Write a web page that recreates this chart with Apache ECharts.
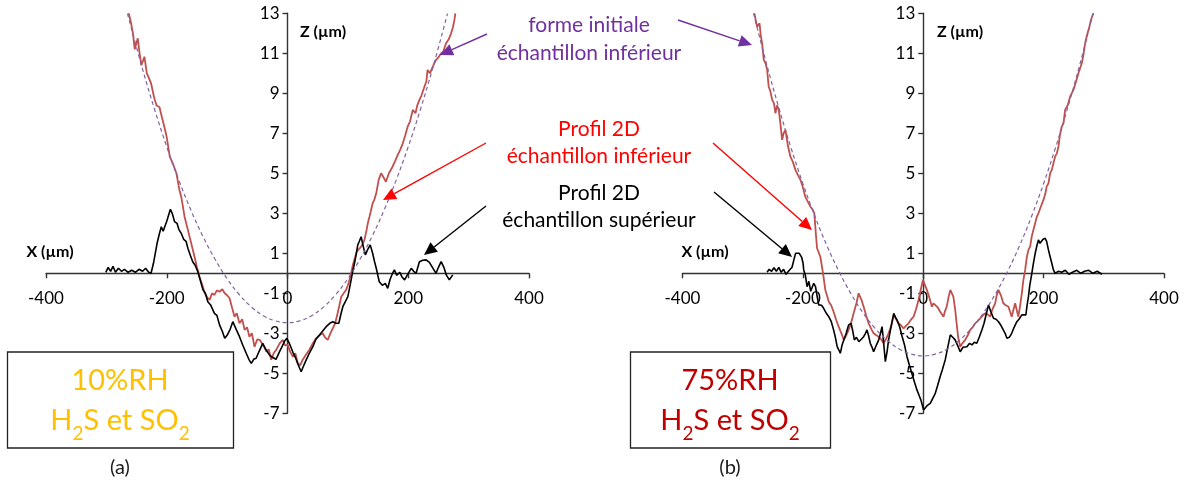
<!DOCTYPE html>
<html><head><meta charset="utf-8">
<script src="https://cdn.jsdelivr.net/npm/echarts@6.0.0/dist/echarts.min.js"></script>
<style>html,body{margin:0;padding:0;background:#fff}#c{width:1188px;height:484px}</style>
</head><body><div id="c"></div>
<script>
// ---- axis settings ----
const X_MIN = -400, X_MAX = 400, X_STEP = 200;
const Z_MIN = -7, Z_MAX = 13, Z_STEP = 2;
const X_NAME = 'X (µm)', Z_NAME = 'Z (µm)';

// ---- panel (a) : 10%RH ----
const aInitial = [[-265,12.98],[-240,10.2],[-220,8.18],[-200,6.33],[-180,4.66],[-160,3.16],[-140,1.84],[-120,0.70],[-100,-0.27],[-80,-1.06],[-60,-1.68],[-40,-2.12],[-20,-2.38],[0,-2.47],[20,-2.38],[40,-2.12],[60,-1.68],[80,-1.06],[100,-0.27],[120,0.70],[140,1.84],[160,3.16],[180,4.66],[200,6.33],[220,8.18],[240,10.2],[265,12.98]];
const aInferieur = [[-263,13.0],[-259,12.5],[-256,12.0],[-253,11.2],[-248,11.75],[-245,11.0],[-242,10.4],[-237,10.83],[-233,10.0],[-230,9.8],[-226,9.5],[-221,8.8],[-217,8.4],[-212,8.3],[-208,7.8],[-204,7.33],[-200,6.8],[-195,5.83],[-190,5.5],[-184,5.0],[-179,4.17],[-176,3.83],[-170.5,2.83],[-165,2.17],[-159.5,1.5],[-154,0.83],[-150,0.3],[-145.7,-0.17],[-141,-0.6],[-137,-1.0],[-133,-1.2],[-129,-1.33],[-125,-1.0],[-121,-1.08],[-117,-0.85],[-112.6,-0.92],[-108,-0.8],[-104,-1.0],[-100,-1.1],[-96,-1.25],[-92,-1.7],[-87.7,-2.17],[-84,-2.0],[-79.5,-2.5],[-75,-2.3],[-71,-2.83],[-67,-2.7],[-63,-3.17],[-59,-3.0],[-54.6,-3.67],[-50,-3.3],[-46,-3.33],[-40,-3.6],[-35,-3.92],[-31,-3.8],[-27,-4.33],[-23,-4.0],[-18.7,-3.83],[-13,-3.5],[-8,-3.33],[-4,-3.6],[0.5,-3.58],[4,-3.9],[9,-4.17],[13,-4.0],[17,-4.5],[21,-4.6],[25,-4.33],[30,-4.1],[36,-3.83],[42,-3.5],[47.5,-3.25],[53,-3.1],[58.4,-3.0],[62,-3.2],[66.7,-3.33],[71,-3.0],[75,-2.75],[79,-2.5],[83,-2.0],[86,-1.6],[89,-1.17],[93,-1.0],[97,-0.83],[100,-0.6],[102.6,-0.33],[106,0.1],[109,0.5],[112,0.8],[114.7,1.08],[118,1.2],[122,1.33],[125,1.5],[127.5,1.67],[131,2.17],[133,2.5],[135.8,2.83],[138,3.1],[141,3.5],[144,3.7],[147,4.0],[151,4.67],[155,5.0],[159,4.8],[163,4.58],[168,5.0],[174,5.33],[178,5.6],[182.6,5.92],[187,6.2],[191,6.5],[195,6.9],[199,7.33],[203,7.6],[207.5,8.17],[212,8.0],[215,8.4],[218.5,8.67],[222,8.9],[226.8,9.33],[230,9.6],[232,10.17],[236,10.0],[240.6,10.33],[246,10.67],[250,10.8],[254.5,11.0],[258,11.1],[262.7,11.5],[267,11.7],[271,12.0],[274,12.3],[276.5,12.67],[278,13.0]];
const aSuperieur = [[-301,0.05],[-297,0.3],[-293,0.1],[-289,0.35],[-285,0.05],[-280,0.25],[-275,0.1],[-270,0.2],[-264,0.05],[-258,0.15],[-252,0.05],[-246,0.2],[-240,0.1],[-235,0.25],[-230,0.05],[-226,0.0],[-222,0.5],[-220,0.83],[-216,1.5],[-212,2.0],[-209,2.33],[-206,2.1],[-204,2.1],[-200,2.6],[-197,2.9],[-194,3.2],[-191,3.0],[-187,2.58],[-183,2.5],[-180,2.2],[-176,2.0],[-172,1.7],[-168,1.6],[-165,1.25],[-161,0.9],[-157,0.58],[-153,0.4],[-148.5,0.08],[-144,-0.4],[-140,-0.83],[-136,-1.0],[-132,-1.42],[-127,-1.6],[-121,-2.0],[-117,-2.1],[-112.6,-2.58],[-108,-2.9],[-104,-3.25],[-100,-3.1],[-95,-2.8],[-90.6,-2.42],[-85,-2.8],[-79.5,-3.17],[-74,-3.6],[-68.4,-4.0],[-64,-4.3],[-60,-4.5],[-56,-4.3],[-52,-4.25],[-47,-3.9],[-41,-3.5],[-36,-3.8],[-30,-4.08],[-25,-4.2],[-19,-4.3],[-13,-3.9],[-9,-3.67],[-5,-3.4],[-1,-3.25],[3,-3.5],[9,-3.95],[13,-4.2],[18,-4.6],[22.7,-4.92],[27,-4.6],[31,-4.33],[36,-4.0],[42,-3.67],[47,-3.3],[53,-3.08],[58,-2.9],[64,-2.67],[70,-2.5],[75,-2.42],[80,-2.5],[85,-2.5],[88,-2.1],[91.6,-1.67],[96,-1.4],[100,-1.17],[103,-0.7],[105.4,-0.33],[108,0.1],[111,0.5],[114,1.0],[116.4,1.42],[119,1.6],[122,1.83],[125,1.4],[129,0.92],[133,1.2],[137,1.42],[141,1.0],[144,0.6],[147,0.25],[152,-0.42],[157,-0.6],[162,-0.5],[166,-0.75],[170,-0.3],[174,0.0],[177,0.17],[181,-0.1],[186,0.05],[190,-0.2],[194,-0.33],[199,-0.05],[205,0.25],[209,0.1],[213,0.0],[218.5,0.58],[224,0.65],[229.6,0.67],[235,0.55],[240,0.3],[246,0.0],[250,0.3],[254.5,0.58],[259,0.3],[263,-0.08],[268,-0.33],[273.7,-0.08]];

// ---- panel (b) : 75%RH ----
const bInitial = [[-282,13.0],[-260,10.43],[-240,8.28],[-220,6.30],[-200,4.49],[-180,2.85],[-160,1.38],[-140,0.09],[-120,-1.03],[-100,-1.98],[-80,-2.75],[-60,-3.35],[-40,-3.79],[-20,-4.04],[0,-4.13],[20,-4.04],[40,-3.79],[60,-3.35],[80,-2.75],[100,-1.98],[120,-1.03],[140,0.09],[160,1.38],[180,2.85],[200,4.49],[220,6.30],[240,8.28],[260,10.43],[282,13.0]];
const bInferieur = [[-280.5,13.0],[-278,12.6],[-276,12.33],[-272,12.5],[-270,11.9],[-267.7,11.5],[-265,10.67],[-262,10.5],[-259.4,10.17],[-256.8,9.33],[-254,9.1],[-251,8.67],[-248,8.5],[-245.6,8.0],[-243,8.4],[-240,8.17],[-237,7.4],[-234.5,6.67],[-232,7.0],[-229,7.17],[-225,6.4],[-220.7,5.83],[-217,5.6],[-212.4,5.17],[-208,4.9],[-204,4.67],[-200,4.3],[-196,3.83],[-192,3.6],[-187.5,3.33],[-184,3.2],[-181,3.0],[-178.5,2.0],[-176.4,1.25],[-171,0.83],[-166.5,0.0],[-162.7,-0.83],[-160,-1.1],[-157,-1.42],[-153,-1.6],[-149,-1.92],[-145,-2.3],[-140.6,-2.67],[-136,-3.0],[-132,-3.33],[-128,-3.1],[-124,-2.83],[-120,-2.5],[-115.7,-2.0],[-111,-1.5],[-107.4,-1.0],[-103,-1.3],[-99,-1.67],[-95,-2.1],[-90.8,-2.5],[-86,-2.8],[-82.5,-3.0],[-78,-3.1],[-74,-3.17],[-70,-3.3],[-66,-3.5],[-62,-3.3],[-57.6,-3.0],[-53,-2.6],[-49,-2.08],[-45,-2.3],[-41,-2.5],[-37,-2.6],[-32.7,-2.75],[-28,-2.6],[-24.4,-2.5],[-20,-2.3],[-16,-2.17],[-12,-1.8],[-7.8,-1.33],[-4,-0.8],[-0.5,-0.33],[0.5,-0.33],[3,-0.6],[6,-0.83],[10,-1.2],[14.4,-1.67],[17,-1.5],[20,-1.42],[24,-1.7],[28,-1.92],[33.7,-2.17],[36,-1.9],[39,-1.67],[42,-1.2],[45,-0.83],[50,-1.17],[53,-1.8],[56,-2.67],[58,-3.2],[61.4,-3.67],[65,-3.5],[69.7,-3.33],[74,-3.1],[78,-2.83],[82,-2.7],[86.3,-2.5],[90,-2.4],[94.6,-2.25],[99,-2.1],[103,-2.0],[107,-2.05],[111,-2.17],[115,-1.8],[119.5,-1.5],[122,-1.1],[125,-0.83],[129,-1.1],[133,-1.5],[137,-1.6],[141.6,-1.67],[144,-1.9],[147,-2.17],[150,-1.8],[152.7,-1.5],[155,-1.8],[158,-2.17],[161,-1.6],[163.8,-1.0],[166,-0.4],[169.3,0.17],[172,0.8],[174.8,1.17],[177.6,1.33],[180,1.8],[183,2.17],[188.7,2.83],[191.4,3.0],[195,3.3],[199.7,3.67],[203,4.0],[205,4.33],[208,4.5],[210.8,5.0],[213.6,5.17],[219,5.83],[222,6.0],[224.6,6.33],[227,6.9],[230,7.33],[233,7.5],[235.7,8.17],[240,8.4],[244,8.83],[249.5,9.17],[254,9.6],[257.8,10.0],[260,10.2],[263.4,10.5],[266,10.9],[269,11.5],[272,11.9],[276,12.33],[279,12.7],[282.7,13.0]];
const bSuperieur = [[-259.5,0.05],[-256,0.2],[-252,0.1],[-248,0.28],[-244,0.1],[-240,0.3],[-236,0.05],[-232,0.2],[-228,-0.05],[-224,0.1],[-220.7,0.0],[-218,0.3],[-215,0.67],[-212,1.0],[-209.6,1.08],[-206,1.0],[-204,1.03],[-202,0.8],[-199.7,0.5],[-198.6,0.17],[-196,-0.08],[-193,-0.67],[-190,-0.4],[-187,-0.9],[-184.7,-0.83],[-182,-0.5],[-179,-0.67],[-176,-1.2],[-173.7,-1.58],[-169,-1.6],[-165.5,-1.75],[-161,-2.0],[-157,-2.17],[-153,-2.4],[-149,-2.83],[-146,-3.2],[-143,-3.67],[-140,-3.85],[-137.8,-4.0],[-135,-3.6],[-132,-3.33],[-128,-3.0],[-124,-2.58],[-120,-2.5],[-117,-2.9],[-114.5,-3.33],[-111,-3.2],[-107,-3.42],[-103,-3.3],[-99,-3.17],[-96,-3.0],[-93.5,-2.83],[-91,-3.1],[-88,-3.5],[-85,-3.7],[-82.5,-3.92],[-78,-3.6],[-74,-3.33],[-71,-3.0],[-68.5,-2.67],[-66,-3.4],[-63,-4.42],[-60,-3.9],[-57.6,-3.33],[-53,-2.6],[-49,-2.0],[-46,-2.2],[-43.7,-2.33],[-39,-2.7],[-35,-3.17],[-31,-3.6],[-27,-4.17],[-23,-4.6],[-19,-5.0],[-15,-5.4],[-10.5,-5.83],[-7,-6.1],[-4,-6.33],[-1.5,-6.6],[0.5,-6.83],[3.3,-6.75],[7,-6.6],[11.6,-6.5],[15,-6.3],[20,-6.0],[24,-5.6],[28,-5.17],[32,-4.8],[36.5,-4.33],[40,-3.8],[45,-3.08],[49,-3.2],[53,-3.33],[57,-3.6],[61.4,-3.92],[66,-3.7],[72.5,-3.67],[77,-3.5],[81,-3.58],[85,-3.45],[89,-3.5],[93,-3.2],[97.4,-2.83],[101,-2.5],[105,-2.0],[108.4,-1.58],[112,-1.9],[116.7,-2.25],[121,-2.3],[125,-2.42],[129,-2.6],[133,-2.83],[136,-3.0],[139,-3.25],[143,-3.2],[147,-3.0],[151,-2.7],[155.5,-2.42],[159,-2.3],[163.8,-2.08],[167,-2.0],[170.5,-2.08],[172.5,-1.6],[174.8,-1.17],[177,-0.6],[180.4,0.0],[183,0.5],[186,1.0],[189,1.4],[191.4,1.67],[194,1.5],[197,1.5],[199,1.7],[202.5,1.75],[205,1.6],[208,1.17],[211,0.8],[213.6,0.5],[216,0.2],[219,0.0],[225,0.1],[230,0.05],[236,0.15],[242,-0.05],[248,0.05],[255,0.15],[262,0.0],[268,0.1],[275,0.15],[282,0.0],[289,0.1],[297,-0.05]];

// ---- texts ----
const annInitial = ['forme initiale', 'échantillon inférieur'];
const annInf = ['Profil 2D', 'échantillon inférieur'];
const annSup = ['Profil 2D', 'échantillon supérieur'];
const boxA = ['10%RH', 'H2S et SO2'];
const boxB = ['75%RH', 'H2S et SO2'];
const captions = ['(a)', '(b)'];

const FONT = 'Lato, "Open Sans", sans-serif';
const AX = '#333333';
const C_INF = '#C0504D', C_SUP = '#000000', C_INIT = '#8064A2';

const GRIDS = [
  { left: 46, top: 13.3, width: 483, height: 400 },
  { left: 682.5, top: 13.3, width: 481.5, height: 400 }
];
// pixel distance of the zero crossing from the default axis positions
function zeroOffsetX(g) { return -g.width * (0 - X_MIN) / (X_MAX - X_MIN); }
function zeroOffsetY(g) { return -g.height * (0 - Z_MIN) / (Z_MAX - Z_MIN); }

function xAxis(gi) {
  return { type: 'value', gridIndex: gi, min: X_MIN, max: X_MAX, interval: X_STEP,
    position: 'bottom', offset: zeroOffsetY(GRIDS[gi]),
    axisLine: { onZero: false, lineStyle: { color: AX, width: 1.4 } },
    axisTick: { show: true, length: 5, lineStyle: { color: AX, width: 1.4 } },
    axisLabel: { color: '#000', fontSize: 17, fontFamily: FONT, margin: 17 },
    splitLine: { show: false } };
}
function yAxis(gi) {
  return { type: 'value', gridIndex: gi, min: Z_MIN, max: Z_MAX, interval: Z_STEP,
    position: 'left', offset: zeroOffsetX(GRIDS[gi]),
    axisLine: { onZero: false, lineStyle: { color: AX, width: 1.4 } },
    axisTick: { show: true, length: 5, lineStyle: { color: AX, width: 1.4 } },
    axisLabel: { color: '#000', fontSize: 17, fontFamily: FONT, margin: 8 },
    splitLine: { show: false } };
}
function line(gi, data, color, width, dashed, z) {
  return { type: 'line', xAxisIndex: gi, yAxisIndex: gi, data: data, showSymbol: false,
    smooth: dashed ? 0.4 : false, silent: true, z: z,
    lineStyle: { color: color, width: width, type: dashed ? [4, 3] : 'solid' } };
}
function arrow(x1, y1, x2, y2, color) {
  const dx = x2 - x1, dy = y2 - y1, L = Math.hypot(dx, dy), ux = dx / L, uy = dy / L;
  const hl = 13, hw = 6;
  const bx = x2 - ux * hl, by = y2 - uy * hl;
  return [
    { type: 'line', shape: { x1: x1, y1: y1, x2: bx, y2: by }, style: { stroke: color, lineWidth: 1.4 }, z: 100 },
    { type: 'polygon', shape: { points: [[x2, y2], [bx - uy * hw, by + ux * hw], [bx + uy * hw, by - ux * hw]] }, style: { fill: color }, z: 100 }
  ];
}
function txt(t, x, y, color, size, weight, align) {
  return { type: 'text', z: 100, style: { text: t, x: x, y: y, fill: color, fontSize: size, fontFamily: FONT,
    fontWeight: weight || 'normal', textAlign: align || 'center', textVerticalAlign: 'middle' } };
}
function subText(t, x, y, color) {
  const parts = t.split('2');
  let s = '';
  parts.forEach((p, i) => { if (p) s += '{n|' + p + '}'; if (i < parts.length - 1) s += '{s|2}'; });
  return { type: 'text', z: 100, style: { text: s, x: x, y: y, textAlign: 'center', textVerticalAlign: 'middle',
    rich: { n: { fill: color, fontSize: 29, fontFamily: FONT, lineHeight: 44, verticalAlign: 'middle' },
            s: { fill: color, fontSize: 19, fontFamily: FONT, lineHeight: 18, verticalAlign: 'bottom' } } } };
}
function box(x, y, w, h) {
  return { type: 'rect', z: 90, shape: { x: x, y: y, width: w, height: h }, style: { fill: '#fff', stroke: '#222', lineWidth: 1.3 } };
}

const graphics = [].concat(
  [txt(X_NAME, 50, 252, '#000', 16, 'bold'), txt(Z_NAME, 323, 32, '#000', 16, 'bold'),
   txt(X_NAME, 705, 252, '#000', 16, 'bold'), txt(Z_NAME, 960, 32, '#000', 16, 'bold')],
  [txt(annInitial[0], 589, 25, '#7030A0', 21), txt(annInitial[1], 589, 53, '#7030A0', 21),
   txt(annInf[0], 599, 129, '#FF0000', 21), txt(annInf[1], 599, 156, '#FF0000', 21),
   txt(annSup[0], 599, 193, '#000', 21), txt(annSup[1], 599, 220, '#000', 21)],
  arrow(487, 34, 440, 55, '#7030A0'), arrow(678, 20, 752, 45, '#7030A0'),
  arrow(486, 143, 383, 200, '#FF0000'), arrow(713, 143, 812, 230, '#FF0000'),
  arrow(486, 206, 424, 255, '#000'), arrow(714, 192, 792, 257, '#000'),
  [box(7.5, 352, 226, 96), box(630.5, 352, 200, 96),
   txt(boxA[0], 120, 381, '#FFC000', 29), subText(boxA[1], 120, 421, '#FFC000'),
   txt(boxB[0], 730, 381, '#C00000', 29), subText(boxB[1], 730, 421, '#C00000'),
   txt(captions[0], 120, 468, '#1a1a1a', 20), txt(captions[1], 730, 468, '#1a1a1a', 20)]
);

const chart = echarts.init(document.getElementById('c'), null, { renderer: 'canvas' });
chart.setOption({
  animation: false,
  backgroundColor: '#fff',
  grid: GRIDS.map(g => Object.assign({ containLabel: false }, g)),
  xAxis: [xAxis(0), xAxis(1)],
  yAxis: [yAxis(0), yAxis(1)],
  series: [
    line(0, aInferieur, C_INF, 1.8, false, 2),
    line(0, aSuperieur, C_SUP, 1.6, false, 3),
    line(0, aInitial, C_INIT, 1.2, true, 4),
    line(1, bInferieur, C_INF, 1.8, false, 2),
    line(1, bSuperieur, C_SUP, 1.6, false, 3),
    line(1, bInitial, C_INIT, 1.2, true, 4)
  ],
  graphic: graphics
});
</script></body></html>
